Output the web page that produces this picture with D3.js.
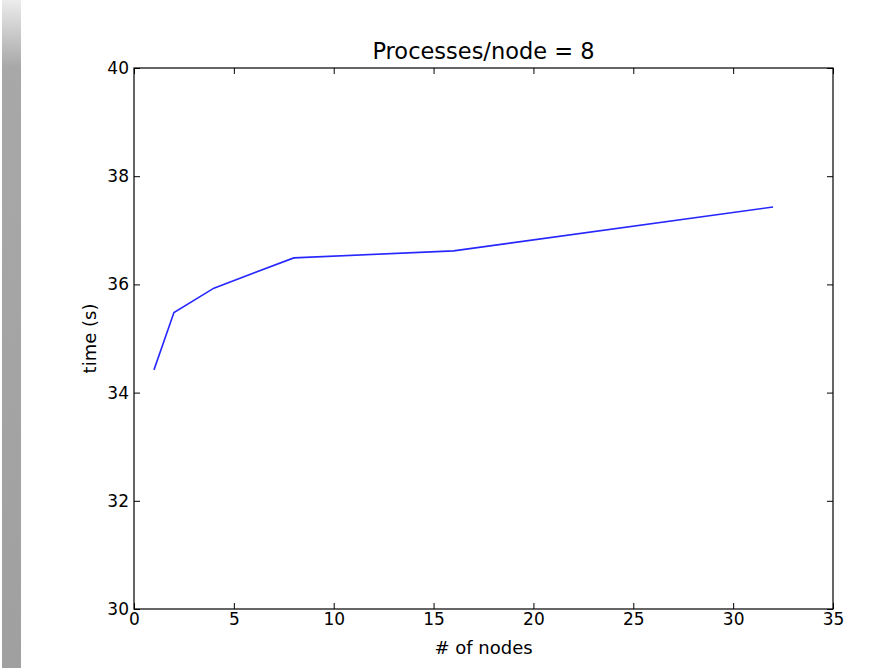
<!DOCTYPE html>
<html>
<head>
<meta charset="utf-8">
<script src="https://cdn.jsdelivr.net/npm/d3@7"></script>
<style>
  body { margin: 0; background: #fff; }
  svg { display: block; font-family: "DejaVu Sans", sans-serif; }
</style>
</head>
<body>
<div id="chart"></div>
<script>
// data
const nodes = [1, 2, 4, 8, 16, 32]
const times = [34.42, 35.48, 35.93, 36.49, 36.62, 37.43]
const xTicks = [0, 5, 10, 15, 20, 25, 30, 35]
const yTicks = [30, 32, 34, 36, 38, 40]
const title = 'Processes/node = 8'
const xLabel = '# of nodes'
const yLabel = 'time (s)'

const width = 874, height = 668
const margin = {top: 68, right: 41, bottom: 59, left: 134}

const svg = d3.select('#chart').append('svg')
  .attr('width', width)
  .attr('height', height)

// grey strip on the left edge
const defs = svg.append('defs')
const grad = defs.append('linearGradient')
  .attr('id', 'strip')
  .attr('x1', 0).attr('y1', 0).attr('x2', 0).attr('y2', 1)
grad.append('stop').attr('offset', '0').attr('stop-color', '#ececec')
grad.append('stop').attr('offset', '0.1').attr('stop-color', '#a8a8a8')
grad.append('stop').attr('offset', '1').attr('stop-color', '#a0a0a0')
svg.append('rect')
  .attr('x', 2).attr('y', 0)
  .attr('width', 19).attr('height', height)
  .attr('fill', 'url(#strip)')

const w = width - margin.left - margin.right
const h = height - margin.top - margin.bottom

let x = d3.scaleLinear().domain([0, 35]).range([0, w])
let y = d3.scaleLinear().domain([30, 40]).range([h, 0])

const g = svg.append('g')
  .attr('transform', `translate(${margin.left},${margin.top})`)

function styleAxis(sel) {
  sel.select('.domain').remove()
  sel.selectAll('.tick line').attr('stroke', '#000').attr('stroke-width', 1)
  sel.selectAll('.tick text')
    .attr('fill', '#000')
    .style('font-size', '17px')
    .style('font-family', '"DejaVu Sans", sans-serif')
}

// bottom / top
g.append('g')
  .attr('transform', `translate(0,${h})`)
  .call(d3.axisBottom(x).tickValues(xTicks).tickSize(-6).tickPadding(4))
  .call(styleAxis)
  .selectAll('.tick text').attr('dy', '0.71em').attr('y', 4)
g.append('g')
  .call(d3.axisTop(x).tickValues(xTicks).tickSize(-6).tickFormat(''))
  .call(styleAxis)

// left / right
g.append('g')
  .call(d3.axisLeft(y).tickValues(yTicks).tickSize(-6).tickPadding(4))
  .call(styleAxis)
  .selectAll('.tick text').attr('x', -5)
g.append('g')
  .attr('transform', `translate(${w},0)`)
  .call(d3.axisRight(y).tickValues(yTicks).tickSize(-6).tickFormat(''))
  .call(styleAxis)

// frame
g.append('rect')
  .attr('width', w).attr('height', h)
  .attr('fill', 'none')
  .attr('stroke', '#000')
  .attr('stroke-width', 1.2)

const line = d3.line()
  .x((d, i) => x(nodes[i]))
  .y(d => y(d))

g.append('path')
  .datum(times)
  .attr('d', line)
  .attr('fill', 'none')
  .attr('stroke', '#0000ff')
  .attr('stroke-width', 1.6)
  .attr('stroke-opacity', 0.85)

svg.append('text')
  .attr('x', margin.left + w / 2)
  .attr('y', 59)
  .attr('text-anchor', 'middle')
  .style('font-size', '22.5px')
  .text(title)

svg.append('text')
  .attr('x', margin.left + w / 2)
  .attr('y', 654)
  .attr('text-anchor', 'middle')
  .style('font-size', '18px')
  .text(xLabel)

svg.append('text')
  .attr('transform', `translate(96,${margin.top + h / 2}) rotate(-90)`)
  .attr('text-anchor', 'middle')
  .style('font-size', '18px')
  .text(yLabel)
</script>
</body>
</html>
